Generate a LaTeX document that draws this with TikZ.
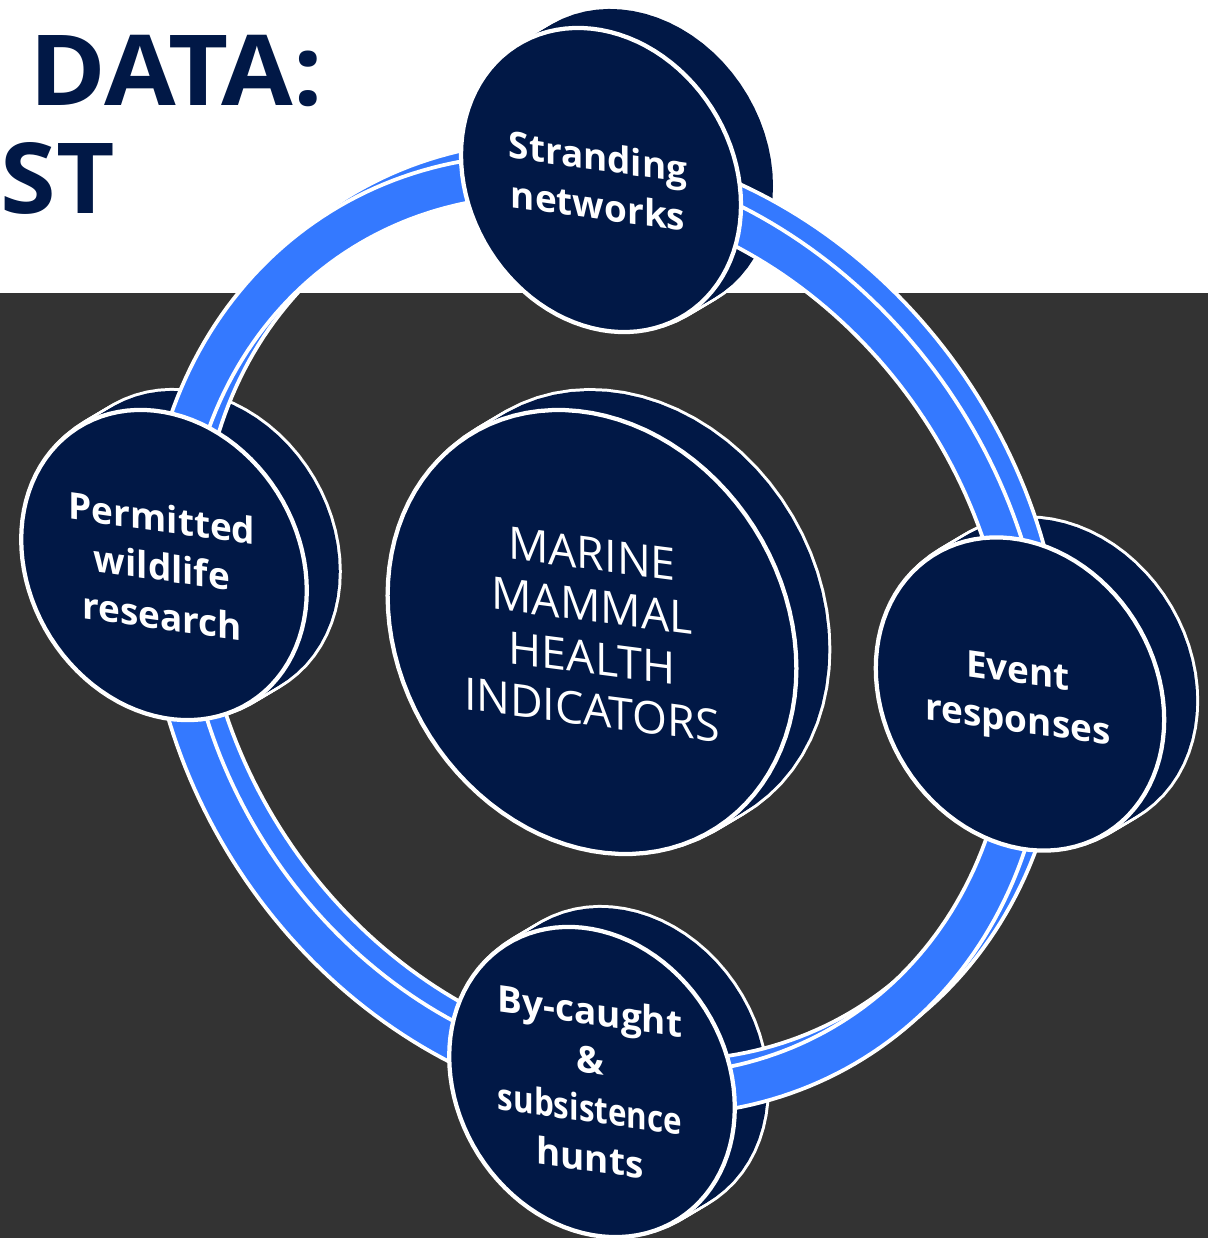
\documentclass[tikz,border=0pt]{standalone}
\usepackage{fontspec}
\setmainfont{Open Sans}
\definecolor{navy}{RGB}{1,24,70}
\definecolor{ringblue}{RGB}{52,121,255}
\definecolor{slate}{RGB}{51,51,51}
% back body of a tilted disc: cx, cy, scale
\newcommand{\mmcyl}[3]{%
  \foreach \k in {0,...,7}{\draw[white, line width=0.12cm] plot[domain=0:360, samples=73] ({#1+32*(1-\k/8)+#3*140*cos(\x)},{#2-19*(1-\k/8)+#3*(25*cos(\x)+150*sin(\x))}) -- cycle;}%
  \foreach \k in {0,...,8}{\fill[navy] plot[domain=0:360, samples=73] ({#1+32*(1-\k/8)+#3*140*cos(\x)},{#2-19*(1-\k/8)+#3*(25*cos(\x)+150*sin(\x))}) -- cycle;}%
}
% front face of a tilted disc
\newcommand{\mmface}[3]{%
  \filldraw[discface] plot[domain=0:360, samples=97] ({#1+#3*140*cos(\x)},{#2+#3*(25*cos(\x)+150*sin(\x))}) -- cycle;%
}
% ring segment: t1, t2, dx, dy
\newcommand{\mmring}[4]{%
  \filldraw[ringband, shift={(#3,#4)}] plot[domain=#1:#2, samples=50] ({597+451.1*cos(\x)},{635+67.9*cos(\x)+475.2*sin(\x)}) -- plot[domain=#1:#2, samples=50] ({597+412.9*cos((#1)+(#2)-\x)},{635+62.1*cos((#1)+(#2)-\x)+434.8*sin((#1)+(#2)-\x)}) -- cycle;%
}
\begin{document}
\begin{tikzpicture}[x=0.02cm, y=-0.02cm,
  discface/.style={fill=navy, draw=white, line width=0.085cm},
  ringband/.style={fill=ringblue, draw=white, line width=0.075cm, line join=round},
  disctext/.style={text=white, align=center, inner sep=0pt, transform shape,
    font=\bfseries\fontsize{21}{27.8}\selectfont},
  centertext/.style={text=white, align=center, inner sep=0pt, transform shape,
    font=\fontsize{25.5}{29.6}\selectfont},
  titletext/.style={text=navy, inner sep=0pt, font=\bfseries\fontsize{55.8}{60}\selectfont}]
\useasboundingbox (0,0) rectangle (1208,1238);
\clip (0,0) rectangle (1208,1238);
\fill[white] (0,0) rectangle (1208,293);
\fill[slate] (0,293) rectangle (1208,1238);

% title fragments
\node[titletext, anchor=base west] (title1) at (29,105) {\scalebox{1.06}[1]{DATA:}};
\node[titletext, anchor=base east] (title2) at (115,213) {\scalebox{1.03}[1]{ST}};

% disc bodies
\mmcyl{601}{180}{1.0}
\mmcyl{164}{565}{1.02}
\mmcyl{1020}{694}{1.03}
\mmcyl{592}{1082}{1.02}
\mmcyl{592}{632}{1.46}

% ring: back bands
\mmring{-78}{-12}{16}{-14}
\mmring{12}{78}{16}{-14}
\mmring{102}{168}{16}{-14}
\mmring{192}{258}{16}{-14}
% ring: front bands
\mmring{-78}{-12}{0}{0}
\mmring{12}{78}{0}{0}
\mmring{102}{168}{0}{0}
\mmring{192}{258}{0}{0}

% disc faces
\mmface{601}{180}{1.0}
\mmface{164}{565}{1.02}
\mmface{1020}{694}{1.03}
\mmface{592}{1082}{1.02}
\mmface{592}{632}{1.46}

% labels
\begin{scope}[shift={(598,181)}, yslant=-0.14]
  \node[disctext] (strand) at (0,0) {Stranding\\networks};
\end{scope}
\begin{scope}[shift={(162,567)}, yslant=-0.14]
  \node[disctext] (permit) at (0,0) {Permitted\\wildlife\\research};
\end{scope}
\begin{scope}[shift={(1018,699)}, yslant=-0.14]
  \node[disctext] (event) at (0,0) {Event\\responses};
\end{scope}
\begin{scope}[shift={(590,1084)}, yslant=-0.14]
  \node[disctext] (bycaught) at (0,0) {By-caught\\\&\\\scalebox{0.85}[1]{subsistence}\\hunts};
\end{scope}
\begin{scope}[shift={(592,632)}, yslant=-0.13]
  \node[centertext] (center) at (0,0) {MARINE\\MAMMAL\\HEALTH\\INDICATORS};
\end{scope}
\end{tikzpicture}
\end{document}
